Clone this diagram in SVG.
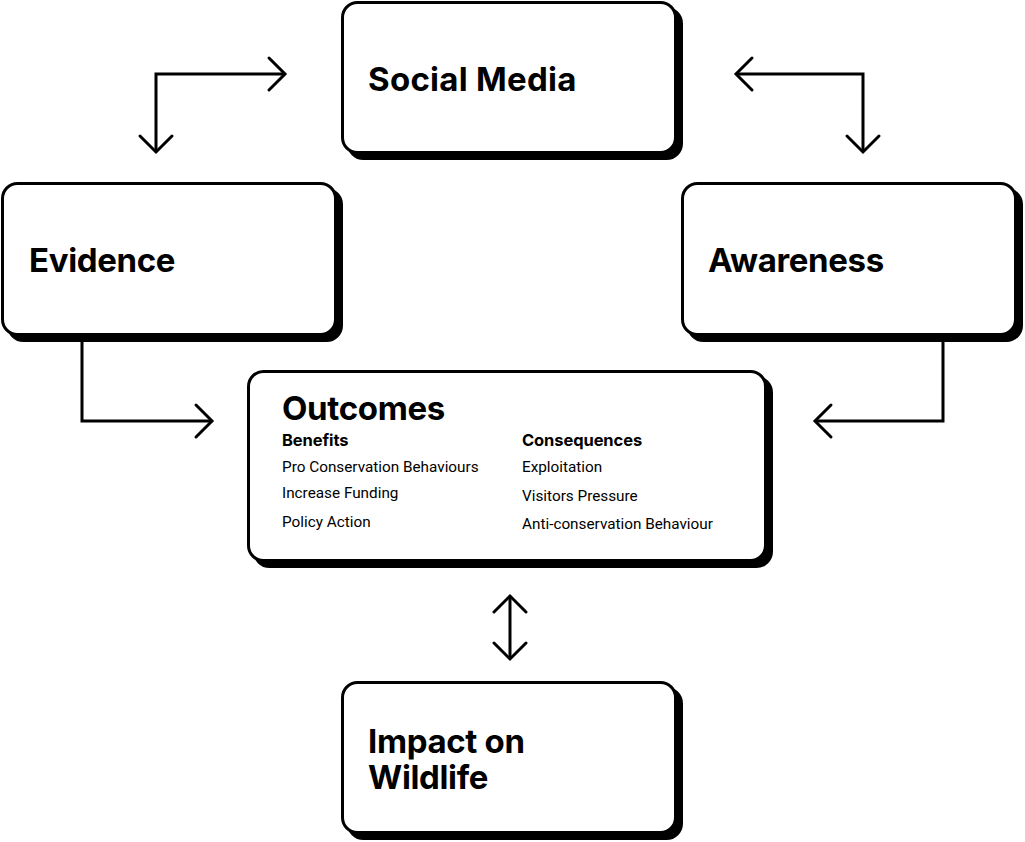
<svg xmlns="http://www.w3.org/2000/svg" width="1025" height="842" viewBox="0 0 1025 842">
<style>
.bg{fill:#ffffff}
.shadow{fill:#000;stroke:#000;stroke-width:3}
.box{fill:#fff;stroke:#000;stroke-width:3}
.title{font-family:Inter,"Liberation Sans",sans-serif;font-weight:700;font-size:33px;letter-spacing:-0.35px;fill:#000}
.sub{font-family:Inter,"Liberation Sans",sans-serif;font-weight:700;font-size:16.5px;letter-spacing:-0.1px;fill:#000}
.item{font-family:Roboto,"Liberation Sans",sans-serif;font-weight:400;font-size:15.3px;fill:#000}
.conn{fill:none;stroke:#000;stroke-width:3;stroke-linejoin:miter}
.head{fill:none;stroke:#000;stroke-width:3;stroke-linecap:round;stroke-linejoin:miter}
</style>
<rect class="bg" x="0" y="0" width="1025" height="842"/>
<g id="connectors">
  <path class="conn" d="M285,74 H156 V152"/>
  <path class="head" d="M269,58 L285,74 L269,90"/>
  <path class="head" d="M140,136 L156,152 L172,136"/>
  <path class="conn" d="M736,74 H863 V152"/>
  <path class="head" d="M752,58 L736,74 L752,90"/>
  <path class="head" d="M847,136 L863,152 L879,136"/>
  <path class="conn" d="M82,342 V421 H212"/>
  <path class="head" d="M196,405 L212,421 L196,437"/>
  <path class="conn" d="M943,342 V421 H815"/>
  <path class="head" d="M831,405 L815,421 L831,437"/>
  <path class="conn" d="M510,596 V659"/>
  <path class="head" d="M494,612 L510,596 L526,612"/>
  <path class="head" d="M494,643 L510,659 L526,643"/>
</g>
<g id="node-social-media">
  <rect class="shadow" x="348.5" y="8.5" width="333" height="150" rx="15"/>
  <rect class="box" x="342.5" y="2.5" width="333" height="150" rx="15"/>
  <text class="title" x="368" y="91" textLength="208" lengthAdjust="spacing">Social Media</text>
</g>
<g id="node-evidence">
  <rect class="shadow" x="8.5" y="189.5" width="333" height="151" rx="15"/>
  <rect class="box" x="2.5" y="183.5" width="333" height="151" rx="15"/>
  <text class="title" x="29" y="272">Evidence</text>
</g>
<g id="node-awareness">
  <rect class="shadow" x="688.5" y="189.5" width="333" height="151" rx="15"/>
  <rect class="box" x="682.5" y="183.5" width="333" height="151" rx="15"/>
  <text class="title" x="708" y="272">Awareness</text>
</g>
<g id="node-outcomes">
  <rect class="shadow" x="254.5" y="377.5" width="517" height="189" rx="15"/>
  <rect class="box" x="248.5" y="371.5" width="517" height="189" rx="15"/>
  <text class="title" x="282" y="420">Outcomes</text>
  <text class="sub" x="282" y="446">Benefits</text>
  <text class="item" x="282" y="472">Pro Conservation Behaviours</text>
  <text class="item" x="282" y="498">Increase Funding</text>
  <text class="item" x="282" y="527">Policy Action</text>
  <text class="sub" x="522" y="446">Consequences</text>
  <text class="item" x="522" y="472">Exploitation</text>
  <text class="item" x="522" y="501">Visitors Pressure</text>
  <text class="item" x="522" y="529">Anti-conservation Behaviour</text>
</g>
<g id="node-impact">
  <rect class="shadow" x="348.5" y="688.5" width="333" height="150" rx="15"/>
  <rect class="box" x="342.5" y="682.5" width="333" height="150" rx="15"/>
  <text class="title"><tspan x="368" y="753">Impact on</tspan><tspan x="368" y="789">Wildlife</tspan></text>
</g>
</svg>
